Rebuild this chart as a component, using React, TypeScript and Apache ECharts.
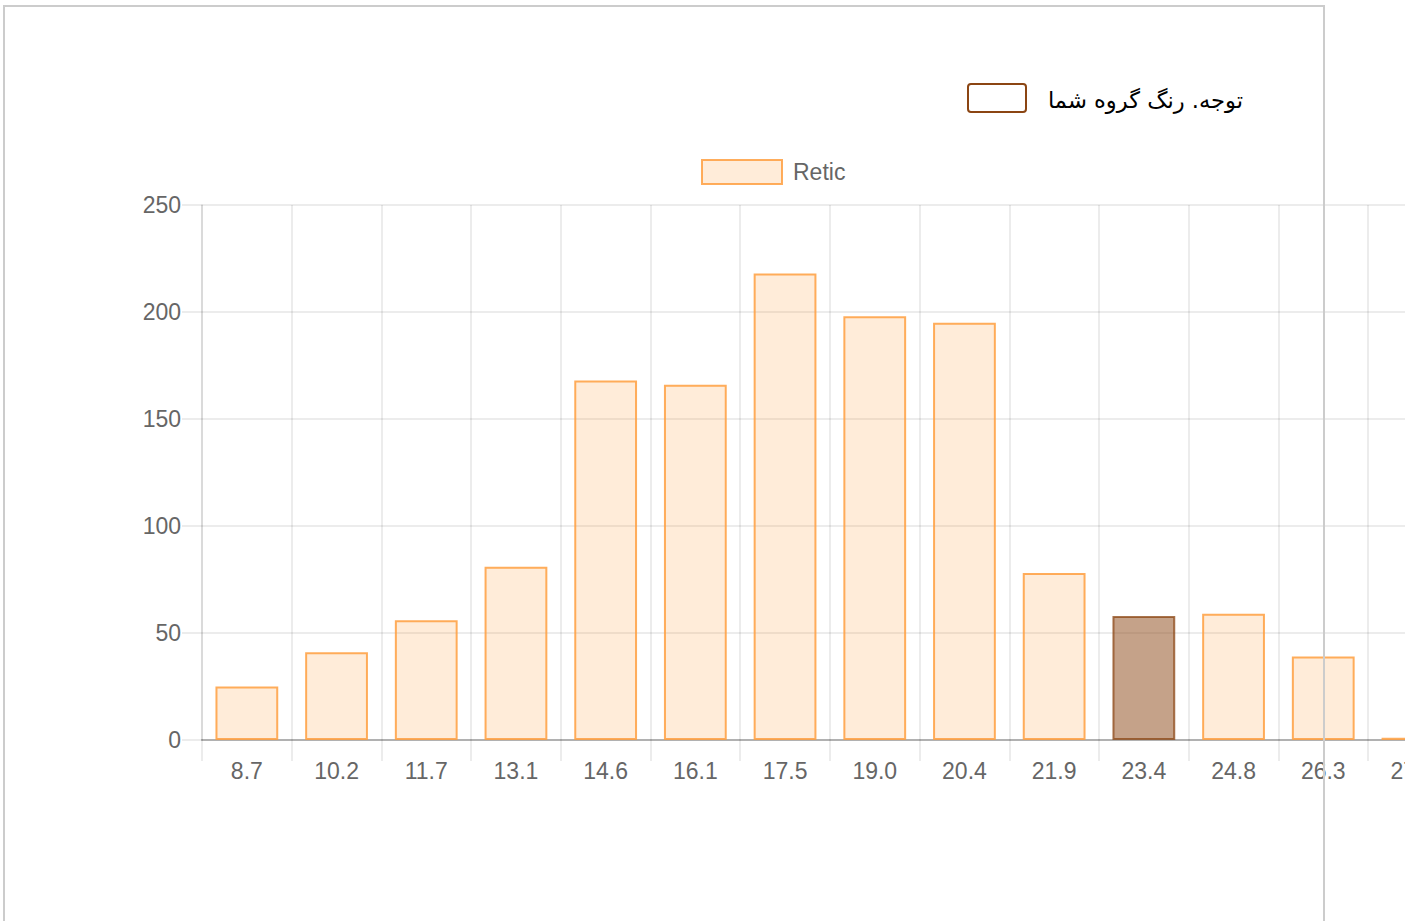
import React, { useEffect, useRef } from "react";
import * as echarts from "echarts";

const categories = ["8.7", "10.2", "11.7", "13.1", "14.6", "16.1", "17.5", "19.0", "20.4", "21.9", "23.4", "24.8", "26.3", "27.8"];
const reticValues = [25, 41, 56, 81, 168, 166, 218, 198, 195, 78, 58, 59, 39, 1];
const highlightIndex = 10;
const yTicks = { min: 0, max: 250, interval: 50 };
const seriesName = "Retic";
const noteText = "توجه. رنگ گروه شما";

export default function App() {
  const ref = useRef<HTMLDivElement>(null);
  useEffect(() => {
    if (!ref.current) return;
    const chart = echarts.init(ref.current, undefined, { renderer: "svg" });
    const W = 1500;
    const gridLeft = 202;
    const gridRight = W - (202 + 14 * 89.7);
    const font = "'Liberation Sans', Arial, Helvetica, sans-serif";
    const gridColor = "rgba(0,0,0,0.1)";
    chart.setOption({
      animation: false,
      textStyle: { fontFamily: font },
      legend: {
        left: 701,
        top: 159,
        padding: 0,
        itemWidth: 80,
        itemHeight: 24,
        itemGap: 12,
        icon: "rect",
        data: [seriesName],
        textStyle: { color: "#666", fontSize: 23, fontFamily: font, padding: [0, 0, 2, 6] },
        itemStyle: { color: "rgba(255,159,64,0.2)", borderColor: "rgba(255,159,64,0.85)", borderWidth: 2 },
      },
      grid: { left: gridLeft, right: gridRight, top: 205, bottom: 181 },
      xAxis: {
        type: "category",
        data: categories,
        boundaryGap: true,
        axisLine: { show: true, lineStyle: { color: "rgba(0,0,0,0.25)", width: 2 } },
        axisTick: { show: true, length: 21, lineStyle: { color: gridColor, width: 1.5 } },
        splitLine: { show: true, lineStyle: { color: gridColor, width: 1.5 } },
        axisLabel: { color: "#666", fontSize: 23, margin: 19, fontFamily: font },
      },
      yAxis: {
        type: "value",
        min: yTicks.min,
        max: yTicks.max,
        interval: yTicks.interval,
        axisLine: { show: true, lineStyle: { color: gridColor, width: 1.5 } },
        axisTick: { show: true, length: 20, lineStyle: { color: gridColor, width: 1.5 } },
        splitLine: { show: true, lineStyle: { color: gridColor, width: 1.5 } },
        axisLabel: { color: "#666", fontSize: 23, margin: 21, fontFamily: font },
      },
      series: [
        {
          name: seriesName,
          type: "bar",
          barCategoryGap: "30%",
          itemStyle: { color: "rgba(255,159,64,0.2)", borderColor: "rgba(255,159,64,0.85)", borderWidth: 2 },
          data: reticValues.map((v, i) =>
            i === highlightIndex
              ? { value: v, itemStyle: { color: "rgba(139,69,19,0.5)", borderColor: "rgba(139,69,19,0.75)", borderWidth: 2 } }
              : v
          ),
        },
      ],
      graphic: [
        {
          type: "rect",
          shape: { x: 968, y: 84, width: 58, height: 28, r: 3 },
          style: { fill: "#fff", stroke: "#8B4513", lineWidth: 2 },
        },
        {
          type: "text",
          x: 1243,
          y: 100,
          style: {
            text: noteText,
            fill: "#000",
            fontSize: 22.6,
            fontFamily: "'DejaVu Sans', 'Noto Sans', sans-serif",
            align: "right",
            verticalAlign: "middle",
          },
        },
      ],
    });
    return () => chart.dispose();
  }, []);

  return (
    <div style={{ position: "fixed", left: 0, top: 0, width: 1416, height: 921, overflow: "hidden", background: "#fff" }}>
      <div style={{ position: "absolute", left: 0, top: 0, width: 1405, height: 921, overflow: "hidden" }}>
        <div ref={ref} style={{ width: 1500, height: 921 }} />
      </div>
      <div
        style={{
          position: "absolute",
          left: 3,
          top: 5,
          width: 1318,
          height: 960,
          border: "2px solid #cccccc",
          pointerEvents: "none",
        }}
      />
    </div>
  );
}
